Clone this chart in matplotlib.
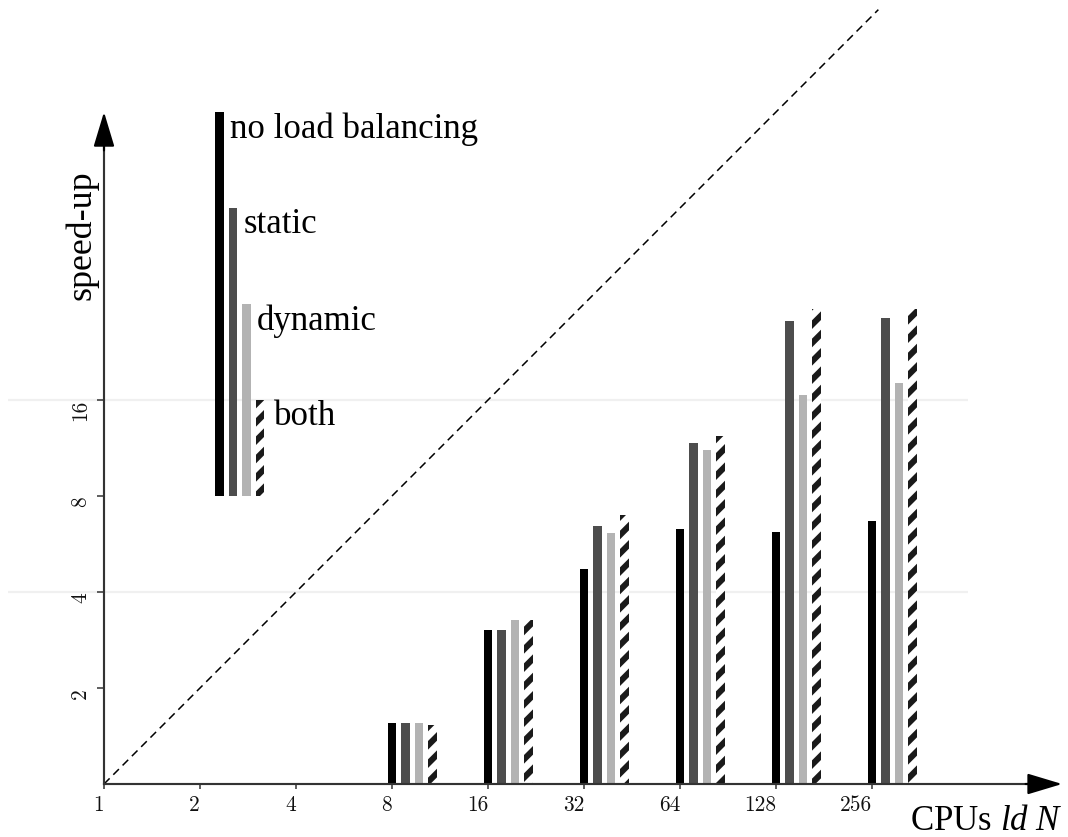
import matplotlib
matplotlib.use('Agg')
import matplotlib.pyplot as plt

# ---------------- data ----------------
cpus = [8, 16, 32, 64, 128, 256]
no_lb = [1.55, 3.04, 4.72, 6.29, 6.16, 6.68]
static = [1.55, 3.04, 6.44, 11.7, 28.3, 29.0]
dynamic = [1.55, 3.27, 6.12, 11.15, 16.6, 18.05]
both = [1.53, 3.27, 6.97, 12.37, 30.8, 30.8]
series_names = ['no load balancing', 'static', 'dynamic', 'both']
legend_tops = [128, 64, 32, 16]
legend_base = 8
x_ticks = [1, 2, 4, 8, 16, 32, 64, 128, 256]
x_tick_labels = ['1', '2', '4', '8', '16', '32', '64', '128', '256']
y_ticks = [2, 4, 8, 16]
y_tick_labels = ['2', '4', '8', '16']
grid_levels = [4, 16]
ideal = [1, 268]

# ---------------- style ----------------
DPI = 110
W, H = 1068, 837
plt.rcParams['hatch.linewidth'] = 4.0
plt.rcParams['lines.scale_dashes'] = False
plt.rcParams['mathtext.fontset'] = 'custom'
plt.rcParams['mathtext.rm'] = 'Liberation Serif'
plt.rcParams['mathtext.it'] = 'Liberation Serif:italic'
SERIF = 'Liberation Serif'
AX_COLOR = '#333333'
colors = ['#000000', '#4d4d4d', '#b3b3b3', '#ffffff']
hatches = [None, None, None, '//']
BAR_STEP = 13.5
BAR_W = 8.3

fig = plt.figure(figsize=(W / DPI, H / DPI), dpi=DPI)
ax = fig.add_axes([0, 0, 1, 1])
ax.set_xscale('log', base=2)
ax.set_yscale('log', base=2)
ax.set_xlim(2 ** (-104 / 96), 2 ** ((W - 104) / 96))
ax.set_ylim(2 ** ((784 - H) / 96), 2 ** (784 / 96))
ax.patch.set_alpha(0)


def shift_x(x, dpx):
    px = ax.transData.transform((x, 1))[0]
    return ax.transData.inverted().transform((px + dpx, 1))[0]


# faint grid lines
ax.hlines(grid_levels, 0.5, 512, colors='#f0f0f0', linewidth=1.4, zorder=0)

# ideal speed-up line
ax.plot(ideal, ideal, color='black', linewidth=1.0, dashes=(5.2, 3.4),
        clip_on=False, zorder=1)

# bars
series = [no_lb, static, dynamic, both]
for i, vals in enumerate(series):
    lefts = [shift_x(x, i * BAR_STEP - BAR_W / 2) for x in cpus]
    rights = [shift_x(x, i * BAR_STEP + BAR_W / 2) for x in cpus]
    widths = [r - l for l, r in zip(lefts, rights)]
    heights = [v - 1 for v in vals]
    ax.bar(lefts, heights, width=widths, bottom=1, align='edge',
           color=colors[i], hatch=hatches[i],
           edgecolor='#1a1a1a' if hatches[i] else colors[i],
           linewidth=0, zorder=2)

# legend bars + labels
leg_x = 2 ** (115.5 / 96)
label_pad_px = [6, 6, 6.5, 9.5]
for i, (name, top) in enumerate(zip(series_names, legend_tops)):
    l = shift_x(leg_x, i * BAR_STEP - BAR_W / 2)
    r = shift_x(leg_x, i * BAR_STEP + BAR_W / 2)
    ax.bar([l], [top - legend_base], width=[r - l], bottom=legend_base,
           align='edge', color=colors[i], hatch=hatches[i],
           edgecolor='#1a1a1a' if hatches[i] else colors[i],
           linewidth=0, zorder=2)
    ax.annotate(name, xy=(r, top), xytext=(label_pad_px[i] * 72 / DPI, 0),
                textcoords='offset points', ha='left', va='top',
                fontsize=22.8, family=SERIF, color='black')

# axes (spines at data value 1)
for s in ['top', 'right']:
    ax.spines[s].set_visible(False)
ax.spines['left'].set_position(('data', 1))
ax.spines['bottom'].set_position(('data', 1))
ax.spines['left'].set_bounds(1, 2 ** 6.7)
ax.spines['bottom'].set_bounds(1, 2 ** 9.7)
for s in ['left', 'bottom']:
    ax.spines[s].set_color(AX_COLOR)
    ax.spines[s].set_linewidth(1.4)

arrow_kw = dict(arrowstyle='-|>,head_length=1.96,head_width=0.59',
                mutation_scale=10, color='black', lw=1.4,
                shrinkA=0, shrinkB=0)
ax.annotate('', xy=(1, 128), xytext=(1, 2 ** 6.6), arrowprops=arrow_kw,
            annotation_clip=False)
ax.annotate('', xy=(2 ** 9.98, 1), xytext=(2 ** 9.6, 1), arrowprops=arrow_kw,
            annotation_clip=False)

# ticks
ax.set_xticks(x_ticks)
ax.set_xticklabels(x_tick_labels)
ax.set_yticks(y_ticks)
ax.set_yticklabels(y_tick_labels)
ax.xaxis.set_minor_locator(matplotlib.ticker.NullLocator())
ax.yaxis.set_minor_locator(matplotlib.ticker.NullLocator())
ax.tick_params(axis='x', direction='out', length=3.3, width=1.0,
               color=AX_COLOR, pad=4, labelsize=14)
ax.tick_params(axis='y', direction='out', length=4.6, width=1.0,
               color=AX_COLOR, pad=4.5, labelsize=14, labelrotation=90)
for lbl in ax.get_xticklabels():
    lbl.set_family('cmr10')
    lbl.set_ha('right')
    lbl.set_color('#111111')
for lbl in ax.get_yticklabels():
    lbl.set_family('cmr10')
    lbl.set_va('top')
    lbl.set_color('#111111')

# axis titles
fig.text(82 / W, 1 - 235 / H, 'speed-up', rotation=90, ha='center',
         va='center', fontsize=23.5, family=SERIF)
fig.text(1063 / W, 1 - 830 / H, r'CPUs $\mathit{ld\ N}$', ha='right',
         va='baseline', fontsize=22.8, family=SERIF)

fig.savefig('out.png', dpi=DPI)
